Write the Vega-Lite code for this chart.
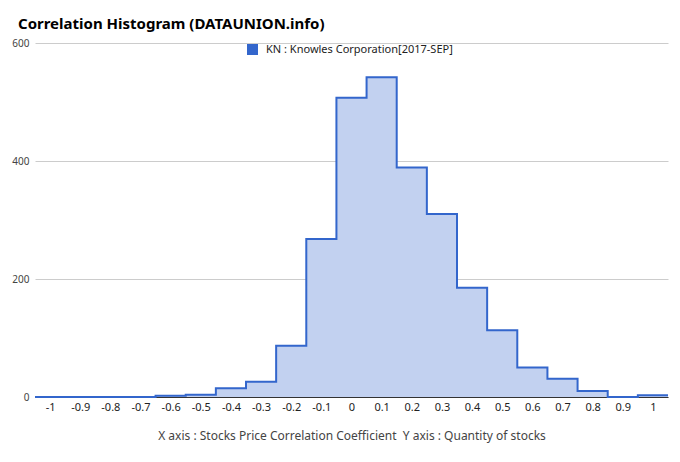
{
  "$schema": "https://vega.github.io/schema/vega-lite/v6.json",
  "width": 633,
  "height": 354,
  "autosize": "none",
  "padding": {"left": 35, "top": 43, "right": 12, "bottom": 65},
  "background": "white",
  "config": {
    "font": "Noto Sans",
    "view": {"stroke": null}
  },
  "title": {
    "text": "Correlation Histogram (DATAUNION.info)",
    "anchor": "start",
    "frame": "group",
    "dx": -17,
    "offset": -6,
    "baseline": "alphabetic",
    "fontSize": 15,
    "fontWeight": "bold",
    "color": "#000000",
    "font": "Noto Sans"
  },
  "data": {
    "values": [
      {"bin_start": -1.05, "bin_end": -0.95, "count": 0, "series": "KN : Knowles Corporation[2017-SEP]"},
      {"bin_start": -0.95, "bin_end": -0.85, "count": 0, "series": "KN : Knowles Corporation[2017-SEP]"},
      {"bin_start": -0.85, "bin_end": -0.75, "count": 0, "series": "KN : Knowles Corporation[2017-SEP]"},
      {"bin_start": -0.75, "bin_end": -0.65, "count": 0, "series": "KN : Knowles Corporation[2017-SEP]"},
      {"bin_start": -0.65, "bin_end": -0.55, "count": 2, "series": "KN : Knowles Corporation[2017-SEP]"},
      {"bin_start": -0.55, "bin_end": -0.45, "count": 4, "series": "KN : Knowles Corporation[2017-SEP]"},
      {"bin_start": -0.45, "bin_end": -0.35, "count": 15, "series": "KN : Knowles Corporation[2017-SEP]"},
      {"bin_start": -0.35, "bin_end": -0.25, "count": 26, "series": "KN : Knowles Corporation[2017-SEP]"},
      {"bin_start": -0.25, "bin_end": -0.15, "count": 87, "series": "KN : Knowles Corporation[2017-SEP]"},
      {"bin_start": -0.15, "bin_end": -0.05, "count": 268, "series": "KN : Knowles Corporation[2017-SEP]"},
      {"bin_start": -0.05, "bin_end": 0.05, "count": 507, "series": "KN : Knowles Corporation[2017-SEP]"},
      {"bin_start": 0.05, "bin_end": 0.15, "count": 542, "series": "KN : Knowles Corporation[2017-SEP]"},
      {"bin_start": 0.15, "bin_end": 0.25, "count": 389, "series": "KN : Knowles Corporation[2017-SEP]"},
      {"bin_start": 0.25, "bin_end": 0.35, "count": 310, "series": "KN : Knowles Corporation[2017-SEP]"},
      {"bin_start": 0.35, "bin_end": 0.45, "count": 185, "series": "KN : Knowles Corporation[2017-SEP]"},
      {"bin_start": 0.45, "bin_end": 0.55, "count": 113, "series": "KN : Knowles Corporation[2017-SEP]"},
      {"bin_start": 0.55, "bin_end": 0.65, "count": 50, "series": "KN : Knowles Corporation[2017-SEP]"},
      {"bin_start": 0.65, "bin_end": 0.75, "count": 31, "series": "KN : Knowles Corporation[2017-SEP]"},
      {"bin_start": 0.75, "bin_end": 0.85, "count": 10, "series": "KN : Knowles Corporation[2017-SEP]"},
      {"bin_start": 0.85, "bin_end": 0.95, "count": 0, "series": "KN : Knowles Corporation[2017-SEP]"},
      {"bin_start": 0.95, "bin_end": 1.05, "count": 3, "series": "KN : Knowles Corporation[2017-SEP]"}
    ]
  },
  "transform": [
    {"fold": ["bin_start", "bin_end"], "as": ["edge", "xpos"]}
  ],
  "encoding": {
    "x": {
      "field": "xpos",
      "type": "quantitative",
      "scale": {"domain": [-1.05, 1.05], "nice": false, "zero": false},
      "axis": {
        "values": [-1, -0.9, -0.8, -0.7, -0.6, -0.5, -0.4, -0.3, -0.2, -0.1, 0, 0.1, 0.2, 0.3, 0.4, 0.5, 0.6, 0.7, 0.8, 0.9, 1],
        "labelExpr": "datum.value < 0 ? '-' + format(-datum.value, '~g') : format(datum.value, '~g')",
        "title": "X axis : Stocks Price Correlation Coefficient\u00a0 Y axis : Quantity of stocks",
        "titleFont": "Noto Sans",
        "titleFontSize": 12,
        "titleFontWeight": "normal",
        "titleColor": "#444444",
        "titlePadding": 18,
        "labelFontSize": 11,
        "labelColor": "#222222",
        "labelPadding": 4,
        "labelFlush": false,
        "ticks": false,
        "grid": false,
        "domain": true,
        "domainColor": "#333333",
        "domainWidth": 1
      }
    },
    "order": [{"field": "xpos", "type": "quantitative"}, {"field": "bin_start", "type": "quantitative"}]
  },
  "layer": [
    {
      "mark": {"type": "area", "color": "#c2d1f0", "opacity": 1},
      "encoding": {
        "y": {
          "field": "count",
          "type": "quantitative",
          "stack": null,
          "scale": {"domain": [0, 600], "nice": false},
          "axis": {
            "values": [0, 200, 400, 600],
            "title": null,
            "domain": false,
            "ticks": false,
            "grid": true,
            "gridColor": "#cccccc",
            "labelFontSize": 10,
            "labelColor": "#444444",
            "labelPadding": 6
          }
        }
      }
    },
    {
      "mark": {"type": "line", "strokeWidth": 2},
      "encoding": {
        "y": {"field": "count", "type": "quantitative"},
        "color": {
          "field": "series",
          "type": "nominal",
          "scale": {"range": ["#3366cc"]},
          "legend": {
            "orient": "none",
            "legendX": 212,
            "legendY": 1,
            "title": null,
            "symbolType": "square",
            "symbolSize": 121,
            "labelFontSize": 11,
            "labelLimit": 400,
            "labelOffset": 8,
            "labelColor": "#222222",
            "labelFont": "Noto Sans",
            "encode": {
              "symbols": {"update": {"fill": {"value": "#3366cc"}, "strokeWidth": {"value": 0}}}
            }
          }
        }
      }
    }
  ]
}
